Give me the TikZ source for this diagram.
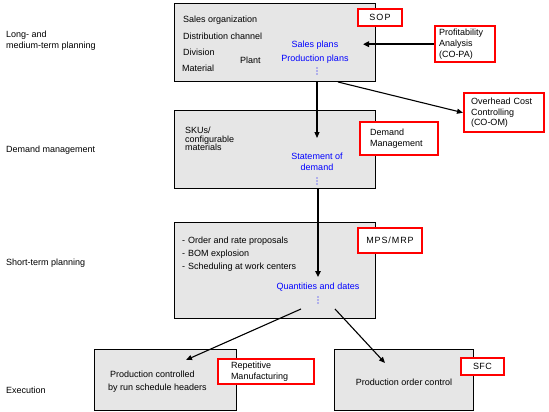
\documentclass[tikz,border=0pt]{standalone}
\usepackage{fontspec}
\setmainfont{Liberation Sans}
\usetikzlibrary{arrows.meta}
\definecolor{boxgray}{RGB}{230,230,230}
\definecolor{tblue}{RGB}{0,0,255}
\definecolor{tred}{RGB}{255,0,0}
\begin{document}
\begin{tikzpicture}[x=1pt,y=-1pt,
  every node/.style={font=\fontsize{9}{11}\selectfont, inner sep=0pt},
  graybox/.style={draw=black, line width=0.9pt, fill=boxgray},
  redbox/.style={draw=tred, line width=2pt, fill=white},
  lbl/.style={anchor=west},
  bluetxt/.style={text=tblue},
  thinarrow/.style={line width=1.1pt, -{Triangle[length=6pt,width=5pt]}},
  thickarrow/.style={line width=2pt, -{Triangle[length=6pt,width=5.5pt]}}]
\useasboundingbox (0,0) rectangle (549,412);

% level labels
\node[lbl, align=left] (lvl1) at (6,40.5) {Long- and\\medium-term planning};
\node[lbl] (lvl2) at (6,150) {Demand management};
\node[lbl] (lvl3) at (6,263) {Short-term planning};
\node[lbl] (lvl4) at (6,390) {Execution};

% gray boxes
\node[graybox, minimum width=201, minimum height=78] (b1) at (274.5,42) {};
\node[graybox, minimum width=201, minimum height=78] (b2) at (274.5,149) {};
\node[graybox, minimum width=201, minimum height=96] (b3) at (274.5,270) {};
\node[graybox, minimum width=142, minimum height=61] (b4) at (165,379.5) {};
\node[graybox, minimum width=139, minimum height=61] (b5) at (403.5,379.5) {};

% box 1 text
\node[lbl] (t11) at (183,20) {Sales organization};
\node[lbl] (t12) at (183,36) {Distribution channel};
\node[lbl] (t13) at (183,52) {Division};
\node[lbl] (t14) at (182,68) {Material};
\node[lbl] (t15) at (240,60) {Plant};
\node[bluetxt] (t16) at (315,45) {Sales plans};
\node[bluetxt] (t17) at (315,59) {Production plans};

% box 2 text
\node[lbl, align=left] (t21) at (185,139) {SKUs/\\[-2.5pt]configurable\\[-2.5pt]materials};
\node[bluetxt, align=center] (t22) at (317,161.5) {Statement of\\demand};

% box 3 text
\node[lbl] (t31) at (182,241) {-\hspace{3pt}Order and rate proposals};
\node[lbl] (t32) at (182,254) {-\hspace{3pt}BOM explosion};
\node[lbl] (t33) at (182,267) {-\hspace{3pt}Scheduling at work centers};
\node[bluetxt] (t34) at (318,287) {Quantities and dates};

% continuation dots
\foreach \px/\py in {317/71, 317/181, 318/300}{
  \foreach \dy in {-3,0,3}{
    \fill[tblue] (\px,\py+\dy) circle[radius=0.6pt];
  }
}

% box 4, 5 text
\node[lbl] (t41) at (110,374) {Production controlled};
\node[lbl] (t42) at (108,388) {by run schedule headers};
\node (t51) at (404,382) {Production order control};

% connectors
\coordinate (c1a) at (317,81);
\coordinate (c1b) at (317,138);
\coordinate (c2a) at (318,188);
\coordinate (c2b) at (318,277);
\coordinate (c3a) at (301,309);
\coordinate (c3b) at (186,360);
\coordinate (c4a) at (335,309);
\coordinate (c4b) at (385,363);
\coordinate (cpa) at (363,41);
\coordinate (coh) at (338,82);

% red boxes
\node[redbox, minimum width=44, minimum height=17] (sop) at (380,17.5) {\addfontfeature{LetterSpace=12}SOP};
\node[redbox, minimum width=59, minimum height=33, align=left, anchor=north west, inner xsep=4pt, inner ysep=3pt, text width=52pt] (pa) at (434,25) {Profitability\\Analysis\\(CO-PA)};
\node[redbox, minimum width=79, minimum height=36, align=left, anchor=north west, inner xsep=7pt, inner ysep=5pt, text width=66pt] (oh) at (463,92) {Overhead Cost\\Controlling\\[-1pt](CO-OM)};
\node[redbox, minimum width=70, minimum height=33, align=left, anchor=north west, inner xsep=10pt, inner ysep=7pt, text width=58pt] (dm) at (359,121) {Demand\\Management};
\node[redbox, minimum width=64, minimum height=25] (mps) at (390,240.5) {\addfontfeature{LetterSpace=10}MPS/MRP};
\node[redbox, minimum width=84, minimum height=25, align=left, anchor=north west, inner xsep=13pt, inner ysep=3pt, text width=70pt] (rm) at (217,358) {Repetitive\\Manufacturing};
\node[redbox, minimum width=43, minimum height=17] (sfc) at (482.5,366.5) {\addfontfeature{LetterSpace=5}SFC};

\draw[thickarrow] (pa.west) -- (pa.west -| cpa);
\draw[thinarrow] (coh) -- (oh.west);
\draw[thinarrow] (c1a) -- (c1b);
\draw[thickarrow] (c2a) -- (c2b);
\draw[thinarrow] (c3a) -- (c3b);
\draw[thinarrow] (c4a) -- (c4b);
\end{tikzpicture}
\end{document}
